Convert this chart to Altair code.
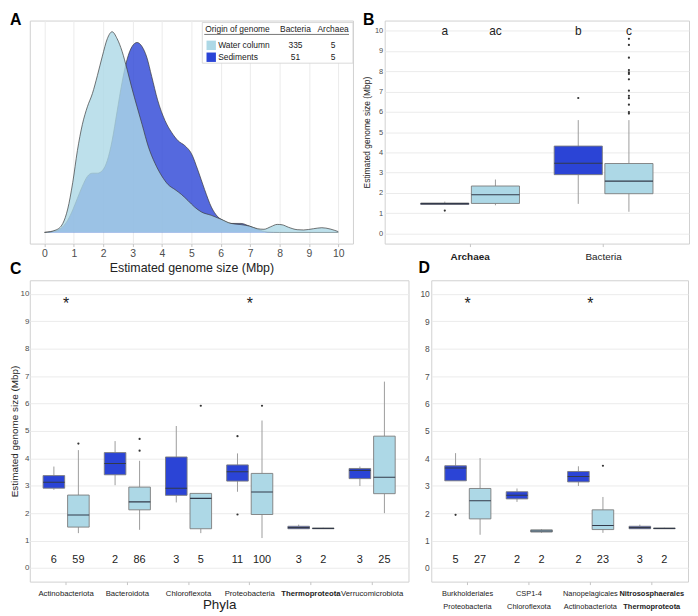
import altair as alt
import pandas as pd

FONT = "Liberation Sans"
SED = "#2b44d6"
WAT = "#add8e6"
ORIGINS = ["Sediments", "Water column"]

# ---------------- Panel A: density curves ----------------
water_x = [0, 0.39, 0.62, 0.79, 0.96, 1.12, 1.29, 1.46, 1.63, 1.8, 1.97, 2.14, 2.3, 2.47,
           2.64, 2.81, 2.98, 3.15, 3.32, 3.54, 3.76, 3.99, 4.21, 4.44, 4.66, 4.89, 5.11,
           5.34, 5.68, 6.01, 6.35, 6.69, 6.97, 7.25, 7.47, 7.7, 7.92, 8.09, 8.31, 8.6,
           8.82, 9.16, 9.44, 9.72, 10]
water_y = [0, 2.5, 9, 24, 51, 84, 111, 129, 142.5, 161, 181, 199, 206, 199,
           186, 167.5, 147.5, 129, 111, 87.5, 71, 58, 49, 44, 39, 32.5, 26,
           21, 17.5, 13.5, 9.2, 8, 6.5, 3.8, 3.2, 5.8, 8.2, 7.8, 5.2, 2.8,
           2.5, 3.8, 4.8, 3.5, 0.8]
sed_x = [0, 0.39, 0.62, 0.79, 0.96, 1.12, 1.29, 1.46, 1.63, 1.8, 1.97, 2.14, 2.3, 2.47,
         2.64, 2.81, 2.98, 3.15, 3.32, 3.48, 3.65, 3.85, 4.1, 4.33, 4.55, 4.78, 5.0,
         5.22, 5.45, 5.68, 5.9, 6.07, 6.35, 6.69, 6.97, 7.25, 7.58, 8.0, 10]
sed_y = [0, 1.5, 5.8, 12.5, 23, 35, 47.5, 57.5, 60.8, 60.8, 63.5, 74, 94, 124,
         154, 177.5, 190.8, 195, 190.8, 180, 160, 136, 115, 102.5, 94, 89, 81,
         64, 44, 26, 16, 12.5, 9.2, 9.2, 6.5, 3.2, 0.5, 0, 0]

legend_header = ["Origin of genome", "Bacteria", "Archaea"]
legend_origins = ["Water column", "Sediments"]
legend_bacteria = [335, 51]
legend_archaea = [5, 5]

# ---------------- Panel B ----------------
b_cats = ["Archaea", "Bacteria"]
b_sed = dict(lo=[1.43, 1.46], q1=[1.43, 2.90], med=[1.47, 3.46], q3=[1.50, 4.31], hi=[1.57, 5.59])
b_wat = dict(lo=[1.39, 1.07], q1=[1.48, 1.96], med=[1.91, 2.58], q3=[2.34, 3.45], hi=[2.66, 5.59])
b_letters_sed = ["a", "b"]
b_letters_wat = ["ac", "c"]
b_out_cat = ["Archaea", "Bacteria"] + ["Bacteria"] * 13
b_out_origin = ["Sediments", "Sediments"] + ["Water column"] * 13
b_out_val = [1.13, 6.68, 9.6, 9.3, 8.67, 8.06, 7.95, 7.87, 7.6, 7.04, 6.79, 6.67, 6.35, 5.99, 5.91]

# ---------------- Panel C ----------------
c_cats = ["Actinobacteriota", "Bacteroidota", "Chloroflexota", "Proteobacteria",
          "Thermoproteota", "Verrucomicrobiota"]
c_sed = dict(lo=[2.85, 3.02, 2.39, 2.78, 1.42, 2.99],
             q1=[2.91, 3.40, 2.65, 3.17, 1.43, 3.26],
             med=[3.13, 3.81, 2.91, 3.51, 1.47, 3.56],
             q3=[3.37, 4.21, 4.05, 3.76, 1.52, 3.63],
             hi=[3.70, 4.63, 5.18, 4.18, 1.58, 3.70])
c_wat = dict(lo=[1.27, 1.39, 1.27, 1.09, 1.42, 2.00],
             q1=[1.49, 2.12, 1.43, 1.95, 1.43, 2.71],
             med=[1.93, 2.41, 2.54, 2.77, 1.44, 3.31],
             q3=[2.66, 2.95, 2.72, 3.45, 1.46, 4.81],
             hi=[4.30, 3.91, 2.72, 5.38, 1.47, 6.80])
c_n_sed = [6, 2, 3, 11, 3, 3]
c_n_wat = [59, 86, 5, 100, 2, 25]
c_out_cat = ["Actinobacteriota", "Bacteroidota", "Bacteroidota", "Chloroflexota",
             "Proteobacteria", "Proteobacteria", "Proteobacteria"]
c_out_origin = ["Water column", "Water column", "Water column", "Water column",
                "Sediments", "Sediments", "Water column"]
c_out_val = [4.54, 4.71, 4.28, 5.92, 4.81, 1.95, 5.92]
c_stars = ["Actinobacteriota", "Proteobacteria"]

# ---------------- Panel D ----------------
d_orders = ["Burkholderiales", "CSP1-4", "Nanopelagicales", "Nitrososphaerales"]
d_phyla = ["Proteobacteria", "Chloroflexota", "Actinobacteriota", "Thermoproteota"]
d_cats = [f"{o}|{p}" for o, p in zip(d_orders, d_phyla)]
d_sed = dict(lo=[3.18, 2.41, 2.99, 1.42], q1=[3.18, 2.52, 3.14, 1.43],
             med=[3.65, 2.65, 3.34, 1.47], q3=[3.73, 2.78, 3.52, 1.52],
             hi=[4.19, 2.90, 3.71, 1.58])
d_wat = dict(lo=[1.21, 1.28, 1.28, 1.43], q1=[1.79, 1.31, 1.40, 1.43],
             med=[2.45, 1.35, 1.55, 1.44], q3=[2.90, 1.39, 2.12, 1.46],
             hi=[4.01, 1.42, 2.59, 1.47])
d_n_sed = [5, 2, 2, 3]
d_n_wat = [27, 2, 23, 2]
d_out_cat = [d_cats[0], d_cats[2]]
d_out_origin = ["Sediments", "Water column"]
d_out_val = [1.94, 3.73]
d_stars = [d_cats[0], d_cats[2]]


def stats_frame(cats, sed, wat, n_sed=None, n_wat=None, lab_sed=None, lab_wat=None):
    rows = []
    for origin, st, n, lab in (("Sediments", sed, n_sed, lab_sed), ("Water column", wat, n_wat, lab_wat)):
        for i, c in enumerate(cats):
            r = dict(cat=c, origin=origin, lo=st["lo"][i], q1=st["q1"][i], med=st["med"][i],
                     q3=st["q3"][i], hi=st["hi"][i])
            if n is not None:
                r["n"] = str(n[i])
            if lab is not None:
                r["lab"] = lab[i]
            rows.append(r)
    return pd.DataFrame(rows)


def box_panel(df, out_df, cats, width, height, pad_in, pad_out, off_pad,
              x_axis, y_axis, text_field, text_y, text_size, stars=None, title=None):
    xs = alt.X("cat:N", scale=alt.Scale(type="band", domain=cats, paddingInner=pad_in,
                                        paddingOuter=pad_out), axis=x_axis)
    xo = alt.XOffset("origin:N", scale=alt.Scale(type="band", domain=ORIGINS,
                                                 paddingInner=off_pad, paddingOuter=0))
    ysc = alt.Scale(domain=[-0.5, 10.5], nice=False, zero=False)
    col = alt.Color("origin:N", scale=alt.Scale(domain=ORIGINS, range=[SED, WAT]), legend=None)
    base = alt.Chart(df)
    w1 = base.mark_rule(color="#9c9c9c", strokeWidth=1).encode(
        x=xs, xOffset=xo, y=alt.Y("lo:Q", scale=ysc, axis=y_axis), y2="q1:Q")
    w2 = base.mark_rule(color="#9c9c9c", strokeWidth=1).encode(
        x=xs, xOffset=xo, y=alt.Y("q3:Q", scale=ysc, axis=y_axis), y2="hi:Q")
    box = base.mark_bar(stroke="#7c7c7c", strokeWidth=0.9).encode(
        x=xs, xOffset=xo, y=alt.Y("q1:Q", scale=ysc, axis=y_axis), y2="q3:Q", color=col)
    med = base.mark_bar(fill="transparent", stroke="#333a4a", strokeWidth=1.1).encode(
        x=xs, xOffset=xo, y=alt.Y("med:Q", scale=ysc, axis=y_axis), y2="med:Q")
    outl = alt.Chart(out_df).mark_circle(size=5, color="#333333", opacity=1).encode(
        x=xs, xOffset=xo, y=alt.Y("value:Q", scale=ysc, axis=y_axis))
    txt = base.mark_text(fontSize=text_size, baseline="middle", color="#222222").encode(
        x=xs, xOffset=xo,
        y=alt.YDatum(text_y, scale=ysc, axis=y_axis, type="quantitative"),
        text=f"{text_field}:N")
    layers = [w1, w2, box, med, outl, txt]
    if stars is not None:
        sdf = pd.DataFrame({"cat": stars})
        st = alt.Chart(sdf).mark_text(text="*", fontSize=16, baseline="middle",
                                      color="#222222").encode(
            x=xs, y=alt.YDatum(9.62, scale=ysc, axis=y_axis, type="quantitative"))
        layers.append(st)
    ch = alt.layer(*layers).properties(width=width, height=height)
    if title is not None:
        ch = ch.properties(title=title)
    return ch


def letter(t, dx, offset):
    return alt.TitleParams(t, anchor="start", frame="group", fontSize=16, fontWeight="bold",
                           color="#000000", dx=dx, offset=offset)


ROW1_H = 225
ROW2_H = 304

# ---------------- Build Panel A ----------------
wdf = pd.DataFrame({"size": water_x, "density": water_y})
sdf = pd.DataFrame({"size": sed_x, "density": sed_y})
xA = alt.X("size:Q", scale=alt.Scale(domain=[-0.5, 10.5], nice=False, zero=False),
           axis=alt.Axis(values=list(range(11)), title="Estimated genome size (Mbp)",
                         titleFontSize=12.5, titleFontWeight="normal", titleColor="#222222",
                         titlePadding=3, labelFontSize=10.5, labelPadding=2, tickSize=3,
                         grid=True))
yA = alt.Y("density:Q", scale=alt.Scale(domain=[-11.5, 217.5], nice=False, zero=False), axis=None)
line_def = alt.OverlayMarkDef(color="#3a3a3a", strokeWidth=0.7, opacity=1)
sed_area = alt.Chart(sdf).mark_area(color=SED, fillOpacity=0.8, interpolate="monotone",
                                    line=line_def).encode(x=xA, y=yA, y2=alt.datum(0))
wat_area = alt.Chart(wdf).mark_area(color=WAT, fillOpacity=0.8, interpolate="monotone",
                                    line=line_def).encode(x=xA, y=yA, y2=alt.datum(0))

ldf = pd.DataFrame({"origin": legend_origins, "bacteria": legend_bacteria,
                    "archaea": legend_archaea})
hdf = pd.DataFrame({"h": legend_header})
ly = alt.Y("origin:N", scale=alt.Scale(type="point", domain=legend_origins, range=[25, 37],
                                       padding=0), axis=None)
lg_box = alt.Chart(hdf).transform_filter(f"datum.h == '{legend_header[0]}'").mark_rect(
    fill="white", stroke="#d0d0d0", strokeWidth=0.8).encode(
    x=alt.value(174), x2=alt.value(326), y=alt.value(2), y2=alt.value(43))
lg_line = alt.Chart(hdf).transform_filter(f"datum.h == '{legend_header[0]}'").mark_rule(
    color="#555555", strokeWidth=0.8).encode(
    x=alt.value(176), x2=alt.value(322), y=alt.value(14))
hdr_layers = []
for h, xpos, al in zip(legend_header, [177, 268, 306], ["left", "center", "center"]):
    hdr_layers.append(
        alt.Chart(hdf).transform_filter(f"datum.h == '{h}'").mark_text(
            fontSize=8.5, align=al, baseline="middle", color="#222222").encode(
            x=alt.value(xpos), y=alt.value(8.5), text="h:N"))
lg_sw = alt.Chart(ldf).mark_square(size=90, opacity=1, filled=True).encode(
    x=alt.value(183), y=ly,
    color=alt.Color("origin:N", scale=alt.Scale(domain=legend_origins, range=[WAT, SED]),
                    legend=None))
lg_t1 = alt.Chart(ldf).mark_text(fontSize=8.5, align="left", baseline="middle",
                                 color="#222222").encode(x=alt.value(190), y=ly, text="origin:N")
lg_t2 = alt.Chart(ldf).mark_text(fontSize=8.5, align="center", baseline="middle",
                                 color="#222222").encode(x=alt.value(268), y=ly, text="bacteria:Q")
lg_t3 = alt.Chart(ldf).mark_text(fontSize=8.5, align="center", baseline="middle",
                                 color="#222222").encode(x=alt.value(306), y=ly, text="archaea:Q")

panelA = alt.layer(sed_area, wat_area, lg_box, lg_line, *hdr_layers, lg_sw, lg_t1, lg_t2,
                   lg_t3).resolve_scale(y="independent", color="independent").properties(
    width=326, height=ROW1_H, title=letter("A", -20, -7))

# ---------------- Build Panel B ----------------
bdf = stats_frame(b_cats, b_sed, b_wat, lab_sed=b_letters_sed, lab_wat=b_letters_wat)
bout = pd.DataFrame({"cat": b_out_cat, "origin": b_out_origin, "value": b_out_val})
b_xaxis = alt.Axis(title=None, labelAngle=0, labelFontSize=10, labelColor="#222222",
                   labelPadding=5, tickSize=3, labelOverlap=False,
                   labelFontWeight={"condition": {"test": "datum.value == 'Archaea'",
                                                  "value": "bold"}, "value": "normal"})
b_yaxis = alt.Axis(values=list(range(11)), title="Estimated genome size (Mbp)",
                   titleFontSize=8.5, titleFontWeight="normal", titleColor="#222222",
                   titlePadding=3, labelFontSize=7.5, labelPadding=2, tickSize=0, grid=True)
panelB = box_panel(bdf, bout, b_cats, 307, ROW1_H, 0.26, 0.27, 0.05, b_xaxis, b_yaxis,
                   "lab", 10, 12, title=letter("B", -22, -7))

# ---------------- Build Panel C ----------------
cdf = stats_frame(c_cats, c_sed, c_wat, n_sed=c_n_sed, n_wat=c_n_wat)
cout = pd.DataFrame({"cat": c_out_cat, "origin": c_out_origin, "value": c_out_val})
c_xaxis = alt.Axis(title="Phyla", titleFontSize=13.5, titleFontWeight="normal",
                   titleColor="#222222", titlePadding=0, labelAngle=0, labelFontSize=7.8,
                   labelColor="#222222", labelPadding=5, tickSize=3, labelOverlap=False,
                   labelFontWeight={"condition": {"test": "datum.value == 'Thermoproteota'",
                                                  "value": "bold"}, "value": "normal"})
c_yaxis = alt.Axis(values=list(range(11)), title="Estimated genome size (Mbp)",
                   titleFontSize=10, titleFontWeight="normal", titleColor="#222222",
                   titlePadding=1, labelFontSize=8, labelPadding=1, tickSize=0, grid=True)
panelC = box_panel(cdf, cout, c_cats, 382, ROW2_H, 0.247, 0.217, 0.12, c_xaxis, c_yaxis,
                   "n", 0.27, 11, stars=c_stars, title=letter("C", -20, 3))

# ---------------- Build Panel D ----------------
ddf = stats_frame(d_cats, d_sed, d_wat, n_sed=d_n_sed, n_wat=d_n_wat)
dout = pd.DataFrame({"cat": d_out_cat, "origin": d_out_origin, "value": d_out_val})
d_xaxis = alt.Axis(title=None, labelAngle=0, labelFontSize=7.5, labelColor="#222222",
                   labelPadding=5, tickSize=3, labelOverlap=False, labelLineHeight=13,
                   labelExpr="split(datum.label, '|')",
                   labelFontWeight={"condition": {"test": f"datum.value == '{d_cats[3]}'",
                                                  "value": "bold"}, "value": "normal"})
d_yaxis = alt.Axis(values=list(range(11)), title=None, labelFontSize=8.5, labelPadding=2,
                   tickSize=0, grid=True)
panelD = box_panel(ddf, dout, d_cats, 259, ROW2_H, 0.26, 0.22, 0.12, d_xaxis, d_yaxis,
                   "n", 0.27, 11, stars=d_stars, title=letter("D", -13, 4))

row1 = alt.hconcat(panelA, panelB, spacing=32, bounds="flush")
row2 = alt.hconcat(panelC, panelD, spacing=23, bounds="flush")
chart = alt.vconcat(row1, row2, spacing=-16).resolve_scale(
    xOffset="independent", color="independent"
).properties(
    padding={"left": 0, "top": 0, "right": 0, "bottom": 0}
).configure(font=FONT).configure_view(
    stroke="#d0d0d0", strokeWidth=1
).configure_axis(
    labelColor="#4d4d4d", domain=False, tickColor="#c4c4c4", gridColor="#ebebeb",
    labelFont=FONT, titleFont=FONT
).configure_title(font=FONT)

chart.save("out.html", embed_options={"renderer": "svg", "actions": False})
